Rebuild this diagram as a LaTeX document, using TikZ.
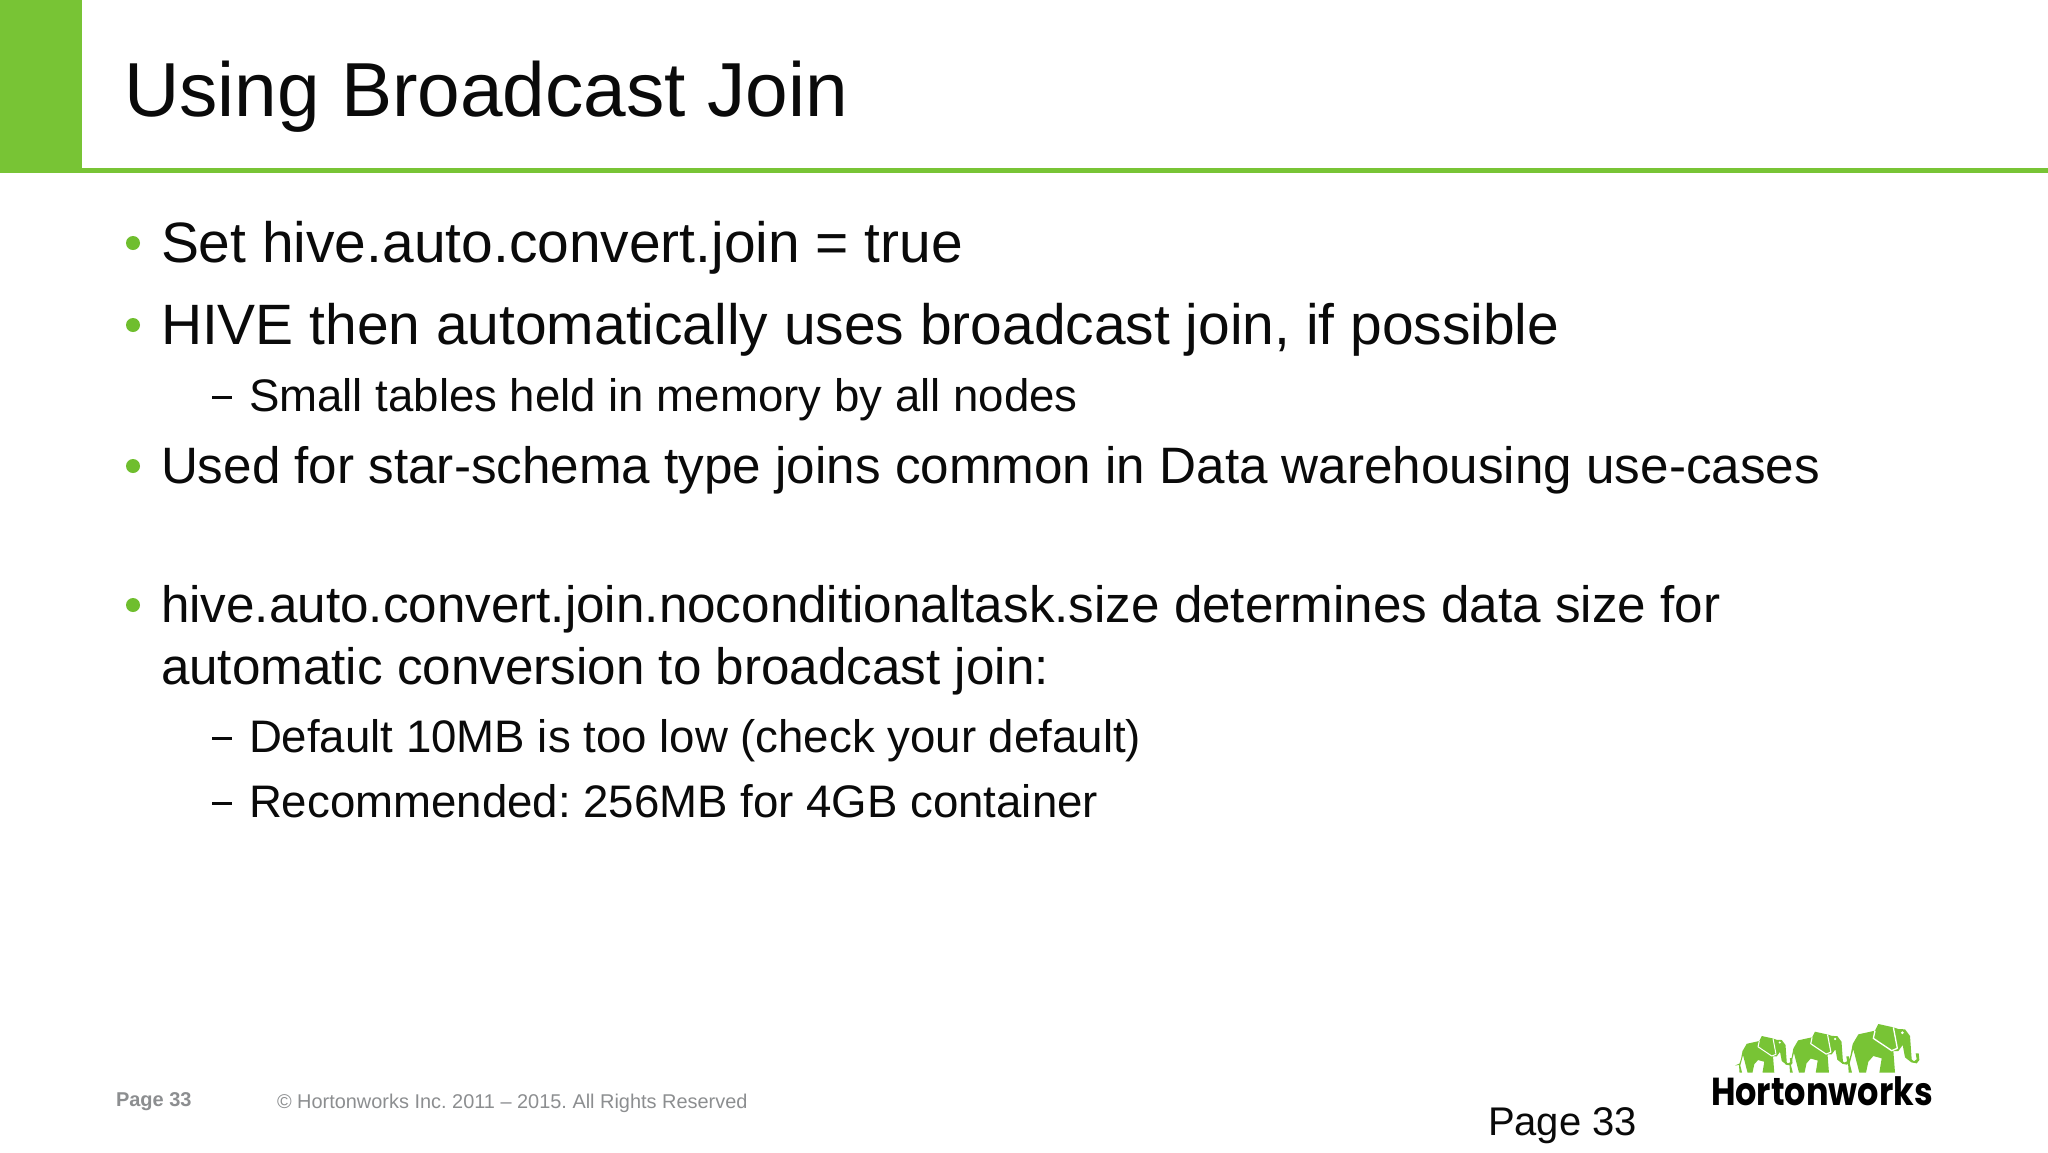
\documentclass[tikz,border=0pt]{standalone}
\usepackage{fontspec}
\setmainfont{Liberation Sans}
\newfontfamily\logofont{Poppins}
\definecolor{hwgreen}{HTML}{78C435}
\definecolor{bulgreen}{HTML}{6FBE2E}
\definecolor{foot}{HTML}{8C8E90}
\definecolor{ink}{HTML}{0A0A0A}
\tikzset{
  txt/.style={anchor=base west,inner sep=0pt,outer sep=0pt,text=ink},
  lone/.style={txt,font=\frenchspacing\fontsize{28.46}{28}\selectfont},
  lonesm/.style={txt,font=\frenchspacing\fontsize{25.6}{26}\selectfont},
  ltwo/.style={txt,font=\frenchspacing\fontsize{22.8}{23}\selectfont},
  dot/.style={circle,fill=bulgreen,draw=none,minimum size=7pt,inner sep=0pt},
  dashmark/.style={fill=ink,draw=none},
  ele/.style={fill=hwgreen,draw=none}
}
\newcommand{\elephant}[3]{%
  \begin{scope}[shift={(#1,#2)},x=#3*0.5pt,y=-#3*0.5pt]
    \fill[ele] (8,130) -- (26,122) -- (32,104) -- (38,72) -- (55,43) -- (105,32) -- (115,12) -- (160,22) -- (175,27) -- (195,28) -- (210,48) -- (215,118) -- (222,124) -- (230,118) -- (227,100) -- (236,100) -- (238,120) -- (230,130) -- (214,127) -- (195,112) -- (188,75) -- (175,93) -- (160,93) -- (165,158) -- (118,158) -- (125,115) -- (100,108) -- (85,125) -- (78,158) -- (58,158) -- (40,88) -- (29,130) -- (36,158) -- (26,158) -- (24,128) -- cycle;
    \draw[white,line width=#3*2pt,line join=round] (105,32) -- (100,55) -- (155,92) -- (172,85) -- (160,22);
    \fill[white] (187,38) circle[radius=#3*2.2pt];
  \end{scope}}
\begin{document}
\begin{tikzpicture}[x=0.5pt,y=-0.5pt]
\useasboundingbox (0,0) rectangle (2048,1152);
\fill[white] (0,0) rectangle (2048,1152);
\fill[hwgreen] (0,0) rectangle (82,173);
\fill[hwgreen] (82,168) rectangle (2048,173);
\node[txt,font=\fontsize{38.3}{39}\selectfont] (title) at (124,116) {Using Broadcast Join};
\node[dot] (b1) at (133,243) {};
\node[lone] (t1) at (161,262) {Set hive.auto.convert.join = true};
\node[dot] (b2) at (133,325) {};
\node[lone] (t2) at (161,344) {HIVE then automatically uses broadcast join, if possible};
\fill[dashmark] (212,396) rectangle (232,399);
\node[ltwo] (t3) at (249,411) {Small tables held in memory by all nodes};
\node[dot] (b3) at (133,466) {};
\node[lonesm] (t4) at (161,483) {Used for star-schema type joins common in Data warehousing use-cases};
\node[dot] (b4) at (133,605) {};
\node[lonesm] (t5) at (161,622.5) {hive.auto.convert.join.noconditionaltask.size determines data size for};
\node[lonesm] (t6) at (161,684) {automatic conversion to broadcast join:};
\fill[dashmark] (212,737) rectangle (232,740);
\node[ltwo] (t7) at (249,752) {Default 10MB is too low (check your default)};
\fill[dashmark] (212,802) rectangle (232,805);
\node[ltwo] (t8) at (249,817) {Recommended: 256MB for 4GB container};
\node[txt,text=foot,font=\fontsize{10}{10}\selectfont\bfseries] (pg) at (116,1106) {Page 33};
\node[txt,text=foot,font=\frenchspacing\fontsize{9.96}{10}\selectfont] (copy) at (277,1108) {© Hortonworks Inc. 2011 – 2015. All Rights Reserved};
\node[txt,font=\fontsize{20}{20}\selectfont] (pg2) at (1488,1135) {Page 33};
\elephant{1733}{1033}{0.25}
\elephant{1782.7}{1028.3}{0.28}
\elephant{1840}{1020}{0.3333}
\node[txt,text=black,xscale=0.86,font=\logofont\bfseries\fontsize{19.5}{20}\selectfont] (logo) at (1711,1105) {Hortonworks};
\end{tikzpicture}
\end{document}
